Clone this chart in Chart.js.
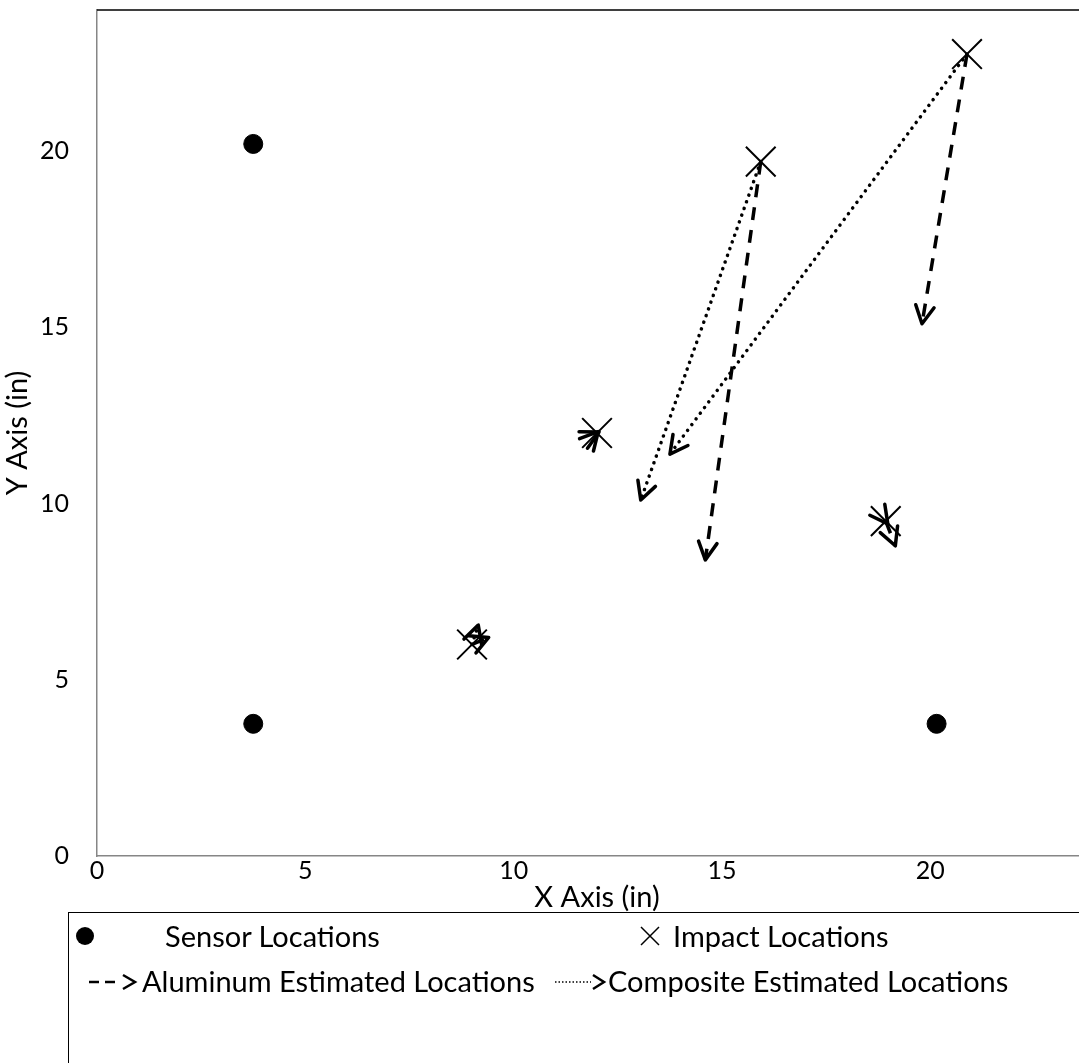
<!DOCTYPE html>
<html lang="en">
<head>
  <meta charset="UTF-8">
  <title>Impact Location Estimates</title>
  <script src="https://cdn.jsdelivr.net/npm/chart.js"></script>
  <style>
    html, body {
      margin: 0;
      padding: 0;
      background: #fff;
      overflow: hidden;
      width: 1079px;
      height: 1063px;
    }
    #wrap {
      position: relative;
      width: 1100px;
      height: 1063px;
    }
    #legend {
      position: absolute;
      left: 68px;
      top: 912px;
      width: 1100px;
      height: 200px;
      border: 1.5px solid #000;
      font-family: Lato, "Open Sans", sans-serif;
      font-size: 29px;
      color: #000;
    }
    .item {
      position: absolute;
      white-space: nowrap;
      line-height: 28px;
    }
    .item svg {
      position: absolute;
      top: 2px;
    }
  </style>
</head>
<body>
<div id="wrap">
  <canvas id="impactChart" width="1100" height="1063"></canvas>
  <div id="legend">
    <div class="item" style="left:0; top:9px;">
      <svg width="40" height="24" style="left:6px"><circle cx="10" cy="12" r="9" fill="#000"/></svg>
      <span style="position:absolute; left:96px">Sensor Locations</span>
    </div>
    <div class="item" style="left:570px; top:9px;">
      <svg width="30" height="24" style="left:0"><path d="M2 3 L20 21 M20 3 L2 21" stroke="#000" stroke-width="1.5"/></svg>
      <span style="position:absolute; left:34px">Impact Locations</span>
    </div>
    <div class="item" style="left:0; top:54px;">
      <svg width="72" height="24" style="left:18px"><path d="M2 13 H12 M18 13 H28 M36 6 L48 13 L36 20" stroke="#000" stroke-width="2.5" fill="none"/></svg>
      <span style="position:absolute; left:73px">Aluminum Estimated Locations</span>
    </div>
    <div class="item" style="left:484px; top:54px;">
      <svg width="60" height="24" style="left:0"><path d="M2 13 H38" stroke="#000" stroke-width="1.5" stroke-dasharray="1.5 2"/><path d="M40 6 L51 13 L40 20" stroke="#000" stroke-width="2.5" fill="none"/></svg>
      <span style="position:absolute; left:55px">Composite Estimated Locations</span>
    </div>
  </div>
</div>

<script>
  // sensor positions (in)
  const sensorX = [3.75, 3.75, 20.15];
  const sensorY = [20.2, 3.75, 3.75];

  // actual impact positions (in)
  const impactX = [9, 12, 15.93, 18.93, 20.88];
  const impactY = [6, 12, 19.7, 9.5, 22.75];

  // estimated positions, same order as impacts
  const aluminumX = [9.4, 12.05, 14.6, 19.16, 19.8];
  const aluminumY = [6.2, 12.03, 8.4, 8.8, 15.1];
  const compositeX = [9.15, 12.03, 13.05, 18.98, 13.75];
  const compositeY = [6.55, 12.04, 10.1, 9.42, 11.4];

  const tickValues = [0, 5, 10, 15, 20];

  const FONT = 'Lato, "Open Sans", sans-serif';

  function pairs(xs, ys) {
    return xs.map((x, i) => ({ x: x, y: ys[i] }));
  }

  const datasets = [
    {
      label: 'Sensor Locations',
      data: pairs(sensorX, sensorY),
      pointStyle: 'circle',
      pointRadius: 9.5,
      backgroundColor: '#000',
      borderColor: '#000',
      showLine: false
    },
    {
      label: 'Impact Locations',
      data: pairs(impactX, impactY),
      pointStyle: 'crossRot',
      pointRadius: 21,
      pointBorderWidth: 2,
      borderColor: '#000',
      showLine: false
    }
  ];

  // one line per estimate: impact -> estimate, arrowhead drawn by plugin
  impactX.forEach((x, i) => {
    datasets.push({
      label: 'Aluminum Estimated Locations',
      data: [{ x: x, y: impactY[i] }, { x: aluminumX[i], y: aluminumY[i] }],
      showLine: true,
      borderColor: '#000',
      borderWidth: 3.5,
      borderDash: [13, 10],
      pointRadius: 0,
      arrow: true
    });
    datasets.push({
      label: 'Composite Estimated Locations',
      data: [{ x: x, y: impactY[i] }, { x: compositeX[i], y: compositeY[i] }],
      showLine: true,
      borderColor: '#000',
      borderWidth: 3.5,
      borderDash: [0.1, 7],
      borderCapStyle: 'round',
      pointRadius: 0,
      arrow: true
    });
  });

  const arrowHeads = {
    id: 'arrowHeads',
    afterDatasetsDraw(chart) {
      const ctx = chart.ctx;
      chart.data.datasets.forEach((ds, i) => {
        if (!ds.arrow) return;
        const pts = chart.getDatasetMeta(i).data;
        const a = pts[0], b = pts[1];
        const ang = Math.atan2(b.y - a.y, b.x - a.x);
        const len = 20, spread = Math.PI / 6.5;
        ctx.save();
        ctx.strokeStyle = '#000';
        ctx.lineWidth = 3.5;
        ctx.lineCap = 'round';
        ctx.lineJoin = 'round';
        ctx.beginPath();
        ctx.moveTo(b.x - len * Math.cos(ang - spread), b.y - len * Math.sin(ang - spread));
        ctx.lineTo(b.x, b.y);
        ctx.lineTo(b.x - len * Math.cos(ang + spread), b.y - len * Math.sin(ang + spread));
        ctx.stroke();
        ctx.restore();
      });
    }
  };

  const plotFrame = {
    id: 'plotFrame',
    beforeDatasetsDraw(chart) {
      const a = chart.chartArea, ctx = chart.ctx;
      ctx.save();
      ctx.strokeStyle = '#000';
      ctx.lineWidth = 1.5;
      ctx.beginPath();
      ctx.moveTo(a.left, a.top);
      ctx.lineTo(a.right, a.top);
      ctx.lineTo(a.right, a.bottom);
      ctx.stroke();
      ctx.restore();
    }
  };

  const chart = new Chart(document.getElementById('impactChart'), {
    type: 'scatter',
    data: { datasets: datasets },
    options: {
      responsive: false,
      animation: false,
      layout: { autoPadding: false, padding: { top: 10, right: 3, bottom: 148, left: 0 } },
      plugins: {
        legend: { display: false },
        tooltip: { enabled: false }
      },
      scales: {
        x: {
          type: 'linear',
          min: 0,
          max: 24,
          afterFit(s) { s.height = 59; s.paddingLeft = 0; s.paddingRight = 0; },
          afterBuildTicks(s) { s.ticks = tickValues.map(v => ({ value: v })); },
          grid: { display: false, drawTicks: false },
          border: { display: true, color: '#868686', width: 1.5 },
          ticks: { color: '#000', font: { family: FONT, size: 25 }, padding: 0 },
          title: {
            display: true,
            text: 'X Axis (in)',
            color: '#000',
            font: { family: FONT, size: 29 },
            padding: { top: 0, bottom: 0 }
          }
        },
        y: {
          type: 'linear',
          min: 0,
          max: 24,
          afterFit(s) { s.width = 97; s.paddingTop = 0; s.paddingBottom = 0; },
          afterBuildTicks(s) { s.ticks = tickValues.map(v => ({ value: v })); },
          grid: { display: false, drawTicks: false },
          border: { display: true, color: '#868686', width: 1.5 },
          ticks: { color: '#000', font: { family: FONT, size: 25 }, padding: 28 },
          title: {
            display: true,
            text: 'Y Axis (in)',
            color: '#000',
            font: { family: FONT, size: 29 },
            padding: { top: 0, bottom: 0 }
          }
        }
      }
    },
    plugins: [plotFrame, arrowHeads]
  });
</script>
</body>
</html>
